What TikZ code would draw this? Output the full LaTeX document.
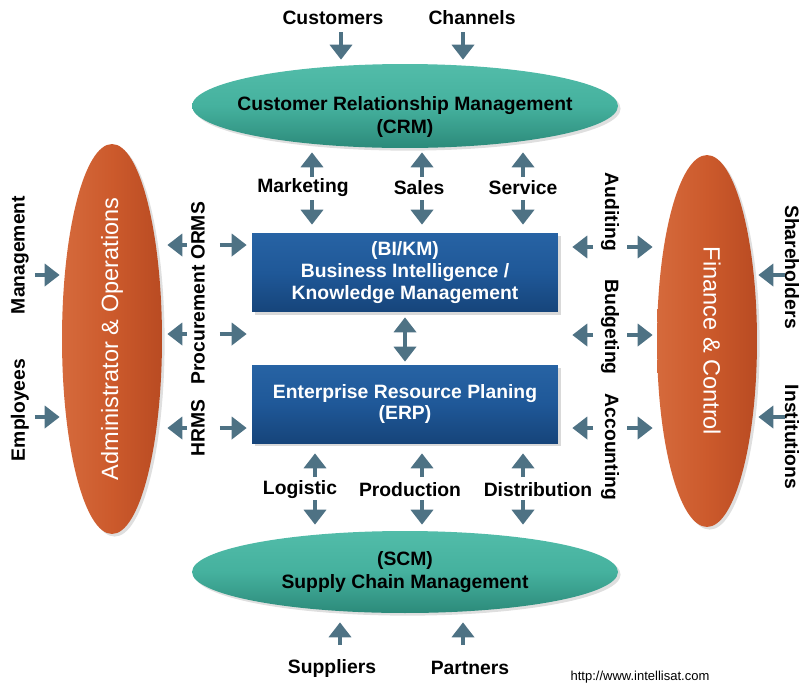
\documentclass[tikz,border=0pt]{standalone}
\usepackage{fontspec}
\setmainfont{Liberation Sans}
\usetikzlibrary{arrows.meta,shapes.geometric,shadows}
\definecolor{arrowblue}{HTML}{4E7284}
\definecolor{teallight}{HTML}{52BCA9}
\definecolor{tealmid}{HTML}{45B19E}
\definecolor{tealdark}{HTML}{2C8A7A}
\definecolor{orangelight}{HTML}{D56A3C}
\definecolor{orangemid}{HTML}{CC5A2C}
\definecolor{orangedark}{HTML}{B94B22}
\definecolor{boxlight}{HTML}{2763A4}
\definecolor{boxmid}{HTML}{1F5898}
\definecolor{boxdark}{HTML}{16447A}
\begin{document}
\begin{tikzpicture}[x=0.02cm, y=-0.02cm,
  lbl/.style={font=\bfseries\fontsize{11}{13}\selectfont, inner sep=0pt, align=center},
  arr/.style={draw=arrowblue, line width=2.8pt, -{Triangle[length=8.5pt,width=12.5pt]}},
  dblarr/.style={draw=arrowblue, line width=2.8pt, {Triangle[length=8.5pt,width=12.5pt]}-{Triangle[length=8.5pt,width=12.5pt]}},
  tealell/.style={ellipse, inner sep=0pt, minimum width=8.52cm, top color=teallight, bottom color=tealdark, middle color=tealmid,
    font=\bfseries\fontsize{11}{13}\selectfont, align=center,
    drop shadow={opacity=0.25, shadow xshift=1.5pt, shadow yshift=-1.5pt}},
  orangeell/.style={ellipse, inner sep=0pt, minimum width=2cm, left color=orangelight, right color=orangedark, middle color=orangemid,
    text=white, font=\fontsize{13.4}{15}\selectfont,
    drop shadow={opacity=0.25, shadow xshift=1.5pt, shadow yshift=-1.5pt}},
  bluebox/.style={rectangle, inner sep=0pt, minimum width=6.12cm, top color=boxlight, bottom color=boxdark, middle color=boxmid,
    text=white, font=\bfseries\fontsize{11}{12.5}\selectfont, align=center,
    drop shadow={opacity=0.3, shadow xshift=1.5pt, shadow yshift=-1.5pt}}]
  \useasboundingbox (0,0) rectangle (802,684);
  \node[tealell, minimum height=1.68cm] (crm) at (405,106) {};
  \node[lbl] (crmtxt) at (405,117) {Customer Relationship Management\\(CRM)};
  \node[tealell, minimum height=1.64cm] (scm) at (405,572) {(SCM)\\Supply Chain Management};
  \node[orangeell, minimum height=7.8cm] (admin) at (112,339) {\rotatebox{90}{\makebox[4cm]{Administrator \& Operations}}};
  \node[orangeell, minimum height=7.44cm] (fin) at (707,341) {\hspace{0.2cm}\rotatebox{-90}{\makebox[3cm]{Finance \& Control}}};
  \node[bluebox, minimum height=1.58cm] (bi) at (405,272.5) {(BI/KM)\\Business Intelligence /\\Knowledge Management};
  \node[bluebox, minimum height=1.56cm] (erp) at (405,404) {Enterprise Resource Planing\\(ERP)};

  \node[lbl] (cust) at (333,18) {Customers};
  \node[lbl] (chan) at (472,18) {Channels};
  \node[lbl] (mkt) at (303,188) {Marketing};
  \node[lbl] (sales) at (419,188) {Sales};
  \node[lbl] (serv) at (523,188) {Service};
  \node[lbl] (logi) at (300,490) {Logistic};
  \node[lbl] (prod) at (410,490) {Production};
  \node[lbl] (dist) at (538,490) {Distribution};
  \node[lbl] (supp) at (332,668) {Suppliers};
  \node[lbl] (part) at (470,668) {Partners};
  \node[lbl, rotate=90] (mgmt) at (20,255) {Management};
  \node[lbl, rotate=90] (empl) at (20,410) {Employees};
  \node[lbl, rotate=90] (orms) at (198,231) {ORMS};
  \node[lbl, rotate=90] (proc) at (198,325) {Procurement};
  \node[lbl, rotate=90] (hrms) at (198,428) {HRMS};
  \node[lbl, rotate=-90] (audit) at (610,212) {Auditing};
  \node[lbl, rotate=-90] (budg) at (610,327) {Budgeting};
  \node[lbl, rotate=-90] (acct) at (610,447) {Accounting};
  \node[lbl, rotate=-90] (share) at (792,267) {Shareholders};
  \node[lbl, rotate=-90] (inst) at (792,437) {Institutions};
  \node[inner sep=0pt, font=\fontsize{7.4}{9}\selectfont] (url) at (640,677) {http://www.intellisat.com};

  \draw[arr, shorten <=0.28cm, shorten >=0.08cm] ([xshift=0.16cm]cust.center) -- ([xshift=0.16cm]cust.center |- crm.north);
  \draw[arr, shorten <=0.28cm, shorten >=0.08cm] ([xshift=-0.18cm]chan.center) -- ([xshift=-0.18cm]chan.center |- crm.north);

  \draw[arr, shorten <=0.22cm, shorten >=0.08cm] ([xshift=0.18cm]mkt.center) -- ([xshift=0.18cm]mkt.center |- crm.south);
  \draw[arr, shorten <=0.24cm, shorten >=0.16cm] ([xshift=0.18cm]mkt.center) -- ([xshift=0.18cm]mkt.center |- bi.north);
  \draw[arr, shorten <=0.22cm, shorten >=0.08cm] ([xshift=0.06cm]sales.center) -- ([xshift=0.06cm]sales.center |- crm.south);
  \draw[arr, shorten <=0.24cm, shorten >=0.16cm] ([xshift=0.06cm]sales.center) -- ([xshift=0.06cm]sales.center |- bi.north);
  \draw[arr, shorten <=0.22cm, shorten >=0.08cm] (serv.center) -- (serv.center |- crm.south);
  \draw[arr, shorten <=0.24cm, shorten >=0.16cm] (serv.center) -- (serv.center |- bi.north);

  \draw[dblarr, shorten <=0.1cm, shorten >=0.06cm] (bi.south) -- (erp.north);

  \draw[arr, shorten <=0.26cm, shorten >=0.2cm] ([xshift=0.3cm]logi.center) -- ([xshift=0.3cm]logi.center |- erp.south);
  \draw[arr, shorten <=0.2cm, shorten >=0.12cm] ([xshift=0.3cm]logi.center) -- ([xshift=0.3cm]logi.center |- scm.north);
  \draw[arr, shorten <=0.26cm, shorten >=0.2cm] ([xshift=0.24cm]prod.center) -- ([xshift=0.24cm]prod.center |- erp.south);
  \draw[arr, shorten <=0.2cm, shorten >=0.12cm] ([xshift=0.24cm]prod.center) -- ([xshift=0.24cm]prod.center |- scm.north);
  \draw[arr, shorten <=0.26cm, shorten >=0.2cm] ([xshift=-0.3cm]dist.center) -- ([xshift=-0.3cm]dist.center |- erp.south);
  \draw[arr, shorten <=0.2cm, shorten >=0.12cm] ([xshift=-0.3cm]dist.center) -- ([xshift=-0.3cm]dist.center |- scm.north);

  \draw[arr, shorten <=0.46cm, shorten >=0.18cm] ([xshift=0.16cm]supp.center) -- ([xshift=0.16cm]supp.center |- scm.south);
  \draw[arr, shorten <=0.46cm, shorten >=0.18cm] ([xshift=-0.14cm]part.center) -- ([xshift=-0.14cm]part.center |- scm.south);

  \draw[arr, shorten <=0.3cm, shorten >=0.04cm] ([yshift=-0.4cm]mgmt.center) -- ([yshift=-0.4cm]mgmt.center -| admin.west);
  \draw[arr, shorten <=0.3cm, shorten >=0.04cm] ([yshift=-0.14cm]empl.center) -- ([yshift=-0.14cm]empl.center -| admin.west);

  \draw[arr, shorten <=0.22cm, shorten >=0.1cm] ([yshift=-0.28cm]orms.center) -- ([yshift=-0.28cm]orms.center -| admin.east);
  \draw[arr, shorten <=0.44cm, shorten >=0.1cm] ([yshift=-0.28cm]orms.center) -- ([yshift=-0.28cm]orms.center -| bi.west);
  \draw[arr, shorten <=0.22cm, shorten >=0.1cm] ([yshift=-0.18cm]proc.center) -- ([yshift=-0.18cm]proc.center -| admin.east);
  \draw[arr, shorten <=0.44cm, shorten >=0.1cm] ([yshift=-0.18cm]proc.center) -- ([yshift=-0.18cm]proc.center -| bi.west);
  \draw[arr, shorten <=0.22cm, shorten >=0.1cm] (hrms.center) -- (hrms.center -| admin.east);
  \draw[arr, shorten <=0.44cm, shorten >=0.1cm] (hrms.center) -- (hrms.center -| erp.west);

  \draw[arr, shorten <=0.34cm, shorten >=0.28cm] ([yshift=-0.7cm]audit.center) -- ([yshift=-0.7cm]audit.center -| bi.east);
  \draw[arr, shorten <=0.34cm, shorten >=0.08cm] ([yshift=-0.7cm]audit.center) -- ([yshift=-0.7cm]audit.center -| fin.west);
  \draw[arr, shorten <=0.34cm, shorten >=0.28cm] ([yshift=-0.16cm]budg.center) -- ([yshift=-0.16cm]budg.center -| bi.east);
  \draw[arr, shorten <=0.34cm, shorten >=0.08cm] ([yshift=-0.16cm]budg.center) -- ([yshift=-0.16cm]budg.center -| fin.west);
  \draw[arr, shorten <=0.34cm, shorten >=0.28cm] ([yshift=0.38cm]acct.center) -- ([yshift=0.38cm]acct.center -| erp.east);
  \draw[arr, shorten <=0.34cm, shorten >=0.08cm] ([yshift=0.38cm]acct.center) -- ([yshift=0.38cm]acct.center -| fin.west);

  \draw[arr, shorten <=0.14cm, shorten >=0.02cm] ([yshift=-0.16cm]share.center) -- ([yshift=-0.16cm]share.center -| fin.east);
  \draw[arr, shorten <=0.14cm, shorten >=0.02cm] ([yshift=0.4cm]inst.center) -- ([yshift=0.4cm]inst.center -| fin.east);
\end{tikzpicture}
\end{document}
